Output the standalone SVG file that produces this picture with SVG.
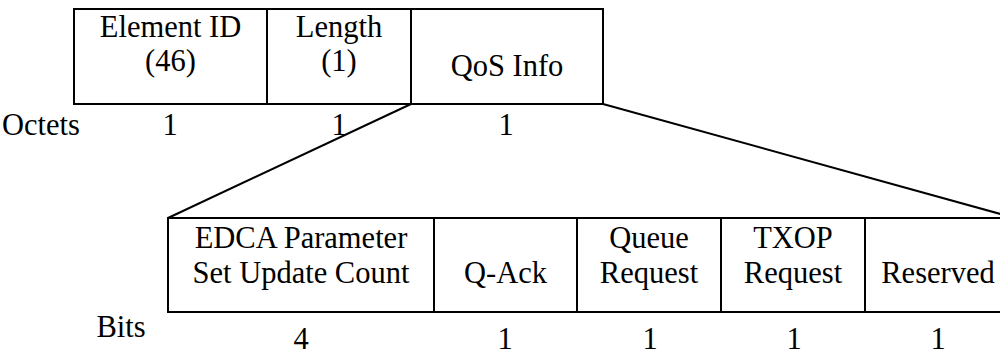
<svg xmlns="http://www.w3.org/2000/svg" width="1000" height="355" viewBox="0 0 1000 355">
  <style>
    .cell { fill: #ffffff; stroke: #000000; stroke-width: 2; }
    .link { fill: none; stroke: #000000; stroke-width: 2; }
    text { font-family: 'Liberation Serif', Tinos, 'Times New Roman', Times, 'DejaVu Serif', serif; font-size: 30.5px; fill: #000000; }
    .c { text-anchor: middle; }
  </style>

  <!-- Expansion lines from the QoS Info field down to its bit layout -->
  <g id="connectors">
    <line class="link" x1="411" y1="104" x2="168" y2="218"/>
    <line class="link" x1="603" y1="104" x2="1015" y2="218"/>
  </g>

  <!-- Element format (octets) -->
  <g id="element-id">
    <rect class="cell" x="74" y="9" width="193" height="95"/>
    <text class="c" x="170.5" y="37">Element ID</text>
    <text class="c" x="170.5" y="71">(46)</text>
  </g>
  <g id="length">
    <rect class="cell" x="267" y="9" width="144" height="95"/>
    <text class="c" x="339" y="37">Length</text>
    <text class="c" x="339" y="71">(1)</text>
  </g>
  <g id="qos-info">
    <rect class="cell" x="411" y="9" width="192" height="95"/>
    <text class="c" x="507" y="76">QoS Info</text>
  </g>
  <g id="octet-sizes">
    <text x="2" y="135">Octets</text>
    <text class="c" x="170" y="135">1</text>
    <text class="c" x="339" y="135">1</text>
    <text class="c" x="506" y="135">1</text>
  </g>

  <!-- QoS Info subfields (bits) -->
  <g id="edca-count">
    <rect class="cell" x="168" y="218" width="266" height="94"/>
    <text class="c" x="301" y="248">EDCA Parameter</text>
    <text class="c" x="301" y="283">Set Update Count</text>
  </g>
  <g id="q-ack">
    <rect class="cell" x="434" y="218" width="143" height="94"/>
    <text class="c" x="505.5" y="283">Q-Ack</text>
  </g>
  <g id="queue-request">
    <rect class="cell" x="577" y="218" width="144" height="94"/>
    <text class="c" x="649" y="248">Queue</text>
    <text class="c" x="649" y="283">Request</text>
  </g>
  <g id="txop-request">
    <rect class="cell" x="721" y="218" width="144" height="94"/>
    <text class="c" x="793" y="248">TXOP</text>
    <text class="c" x="793" y="283">Request</text>
  </g>
  <g id="reserved">
    <rect class="cell" x="865" y="218" width="150" height="94"/>
    <text class="c" x="938" y="283">Reserved</text>
  </g>
  <g id="bit-sizes">
    <text class="c" x="121" y="337">Bits</text>
    <text class="c" x="301" y="349">4</text>
    <text class="c" x="505" y="349">1</text>
    <text class="c" x="650" y="349">1</text>
    <text class="c" x="794" y="349">1</text>
    <text class="c" x="938" y="349">1</text>
  </g>
</svg>
